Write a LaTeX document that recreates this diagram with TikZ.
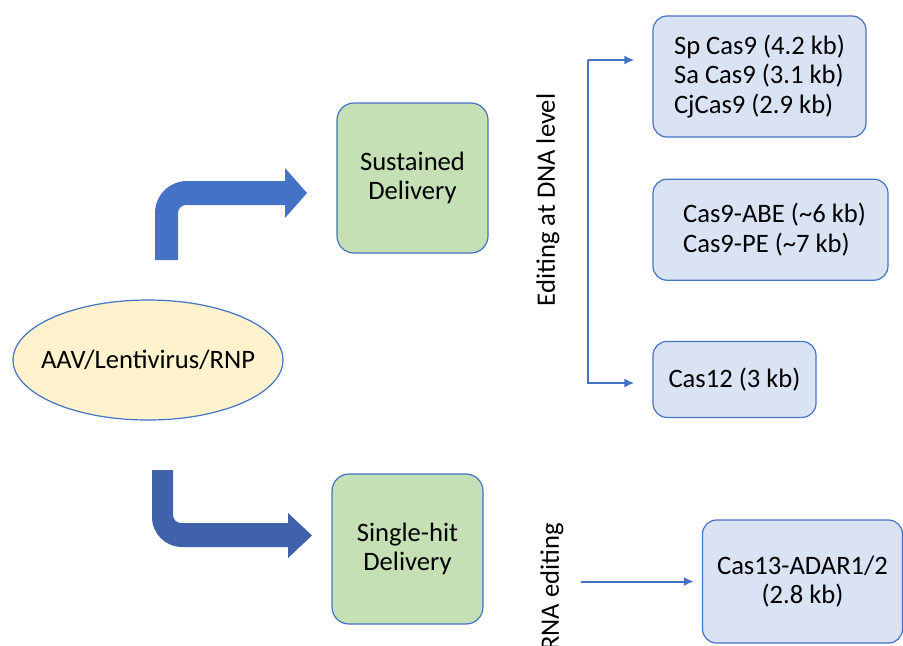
\documentclass[tikz,border=0pt]{standalone}
\usepackage{fontspec}
\setmainfont{Carlito}
\usepackage[]{xcolor}
\usetikzlibrary{positioning,shapes.geometric,arrows.meta}
\definecolor{edgeblue}{HTML}{4472C4}
\definecolor{bendblue}{HTML}{4472C4}
\definecolor{benddark}{HTML}{3F62AA}
\definecolor{boxblue}{HTML}{DAE3F3}
\definecolor{boxgreen}{HTML}{C5E0B4}
\definecolor{cream}{HTML}{FFF2CC}
\tikzset{delivery/.style={draw=edgeblue,line width=0.6pt,fill=boxgreen,rounded corners=8.5pt,align=center,minimum width=75.5pt,minimum height=75pt},
cargo/.style={draw=edgeblue,line width=0.6pt,fill=boxblue,rounded corners=7pt,inner sep=0pt},
link/.style={draw=edgeblue,line width=1pt,-{Latex[length=5pt,width=4.5pt]}}
}

\begin{document}
\begin{tikzpicture}[x=0.5pt,y=-0.5pt,font=\fontsize{13.3}{14.8}\selectfont]
  \useasboundingbox (0,0) rectangle (903,645);

  % Vector
    \node[ellipse,draw=edgeblue,line width=0.6pt,fill=cream,inner xsep=-6.5pt,minimum width=135pt,minimum height=60pt] (vec) at (148,360) {AAV/Lentivirus/RNP};

  % Delivery modes
    \node[delivery] (sus) at (412.5,178) {Sustained\\Delivery};
    \node[delivery] (hit) at (407.5,549) {Single-hit\\Delivery};

  % Bent arrows
    \fill[bendblue] (155,260) -- (155,213) .. controls (155,195.3) and (169.3,181) .. (187,181) -- (285,181) -- (285,168) -- (307,193) -- (285,218) -- (285,205) -- (186,205) .. controls (181.6,205) and (178,208.6) .. (178,213) -- (178,260) -- cycle;
    \fill[benddark] (152,470) -- (152,517) .. controls (152,533.6) and (165.4,547) .. (182,547) -- (288,547) -- (288,558) -- (312,535.5) -- (288,513) -- (288,523) -- (181,523) .. controls (176.6,523) and (173,519.4) .. (173,515) -- (173,470) -- cycle;

  % Editing at DNA level
    \node[cargo,minimum width=106.5pt,minimum height=60.5pt,align=left] (cas9) at (759.5,76.5) {Sp Cas9 (4.2 kb)\\Sa Cas9 (3.1 kb)\\CjCas9 (2.9 kb)};
    \node[cargo,minimum width=117.5pt,minimum height=50.5pt,align=left,below=20.5pt of cas9.south west,anchor=north west] (base) {\hspace*{4pt}Cas9-ABE (\textasciitilde6 kb)\\\hspace*{4pt}Cas9-PE (\textasciitilde7 kb)};
    \node[cargo,minimum width=81.5pt,minimum height=38pt,below=30pt of base.south west,anchor=north west] (cas12) {Cas12 (3 kb)};
    \node[rotate=90] (dna) at (548,200) {Editing at DNA level};

    \coordinate (dnatop) at (588,60);
    \coordinate (dnabot) at (588,383);
    \draw[link,shorten >=9pt] (dnatop) -- (dnatop -| cas9.west);
    \draw[link,shorten >=9pt] (dnatop) -- (dnabot) -- (dnabot -| cas12.west);

  % Editing at RNA level
    \node[cargo,minimum width=100pt,minimum height=61.5pt,align=center] (cas13) at (802.5,581.5) {Cas13-ADAR1/2\\(2.8 kb)};
    \node[rotate=90,anchor=east] (rna) at (552,516) {RNA editing};
    \coordinate (rnastart) at (581,581.5);
    \draw[link,shorten >=4pt] (rnastart) -- (cas13.west);

\end{tikzpicture}
\end{document}
